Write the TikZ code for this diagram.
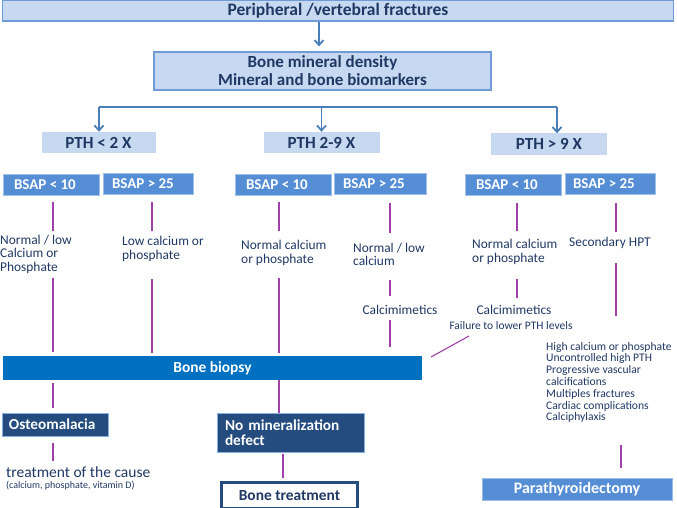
\documentclass[tikz,border=0pt]{standalone}
\usepackage{fontspec}
\setmainfont{Carlito}
\usetikzlibrary{arrows.meta}
\definecolor{lb}{HTML}{C6D9F1}
\definecolor{mb}{HTML}{558ED5}
\definecolor{bord}{HTML}{6F9BD6}
\definecolor{arr}{HTML}{4A7EBB}
\definecolor{pur}{HTML}{A040A8}
\definecolor{navy}{HTML}{1F3864}
\definecolor{biop}{HTML}{0070C0}
\definecolor{dk}{HTML}{244C7E}
\newcommand{\lbox}[2]{\makebox[#1][l]{#2}}
\begin{document}
\begin{tikzpicture}[x=1pt,y=-1pt,
  topbox/.style={fill=lb,draw=bord,line width=1.2pt,text=navy,inner sep=0pt,align=center,
    font=\bfseries\fontsize{17}{18}\selectfont},
  pthbox/.style={fill=lb,text=navy,inner sep=0pt,minimum height=21pt,
    font=\bfseries\fontsize{17}{18}\selectfont},
  bsapbox/.style={fill=mb,draw=mb!55!white,line width=0.6pt,text=white,inner ysep=0pt,minimum height=21pt,
    font=\bfseries\fontsize{15}{15}\selectfont},
  txt/.style={text=navy,inner sep=0pt,align=left,anchor=west,font=\fontsize{13.4}{13.5}\selectfont},
  pl/.style={draw=pur,line width=1.1pt},
  ar/.style={draw=arr,line width=1.8pt,-{Straight Barb[length=5pt,width=9pt]}},
  ln/.style={draw=arr,line width=1.8pt},
  darkbox/.style={fill=dk,draw=mb!70,line width=0.6pt,text=white,inner ysep=0pt,align=left,
    font=\bfseries\fontsize{15.3}{15}\selectfont},
  whitebox/.style={fill=white,draw=dk,line width=3pt,text=navy,inner sep=0pt,
    font=\bfseries\fontsize{15.4}{16}\selectfont},
  bluebar/.style={inner sep=0pt,text=white,font=\bfseries\fontsize{15.4}{16}\selectfont}]
\useasboundingbox (0,0) rectangle (677,508);
% top part
\node[topbox,minimum width=671pt,minimum height=21pt,font=\bfseries\fontsize{17.5}{18}\selectfont] (top) at (338,10.5) {Peripheral /vertebral fractures};
\node[topbox,minimum width=337pt,minimum height=38pt] (bmd) at (322.5,71) {Bone mineral density\\Mineral and bone biomarkers};
\node[pthbox,minimum width=114pt] (p1) at (98.5,142.5) {PTH < 2 X};
\node[pthbox,minimum width=116pt] (p2) at (321.5,142.5) {PTH 2-9 X};
\node[pthbox,minimum width=116pt] (p3) at (549,144) {PTH > 9 X};
\coordinate (bl) at (99,107);
\coordinate (br) at (557,107);
\coordinate (ta) at (319,0);
\draw[ar,shorten >=5pt] (ta |- top.south) -- (ta |- bmd.north);
\draw[ln] (bl) -- (br);
\draw[ar] (bl) -- (bl |- p1.north);
\draw[ar] (p2.north |- bl) -- (p2.north);
\draw[ar] (br) -- (br |- p3.north);
% BSAP
\node[bsapbox,inner xsep=11pt] (bs1) at (51,184.5) {\lbox{74pt}{BSAP < 10}};
\node[bsapbox,inner xsep=9pt] (bs2) at (148,184) {\lbox{72pt}{BSAP > 25}};
\node[bsapbox,inner xsep=11pt] (bs3) at (283,184.5) {\lbox{74pt}{BSAP < 10}};
\node[bsapbox,inner xsep=9pt] (bs4) at (380,184) {\lbox{74pt}{BSAP > 25}};
\node[bsapbox,inner xsep=11pt] (bs5) at (513,184.5) {\lbox{74pt}{BSAP < 10}};
\node[bsapbox,inner xsep=8pt] (bs6) at (610,184) {\lbox{74pt}{BSAP > 25}};
% texts
\node[txt] (t1) at (0,254) {Normal / low\\Calcium or\\Phosphate};
\node[txt] (t2) at (122,249) {Low calcium or\\phosphate};
\node[txt] (t3) at (241,253) {Normal calcium\\or phosphate};
\node[txt] (t4) at (353,254.5) {Normal / low\\calcium};
\node[txt] (t5) at (472,252) {Normal calcium\\or phosphate};
\node[txt] (t6) at (569,243) {Secondary HPT};
\node[txt,anchor=center] (c4) at (400,310) {Calcimimetics};
\node[txt,anchor=center] (c5) at (514,310) {Calcimimetics};
\node[txt,anchor=center,font=\fontsize{11.5}{12}\selectfont] (f5) at (511,326) {Failure to lower PTH levels};
\node[txt,font=\fontsize{11.6}{11.8}\selectfont] (list) at (546,382.5) {High calcium or phosphate\\Uncontrolled high PTH\\Progressive vascular\\calcifications\\Multiples fractures\\Cardiac complications\\Calciphylaxis};
% lower boxes
\node[bluebar,fill=biop,minimum width=419pt,minimum height=24pt] (bb) at (212.5,368) {Bone biopsy};
\node[darkbox,minimum height=23pt,inner xsep=7pt,text width=92pt] (os) at (55,424.5) {Osteomalacia};
\node[darkbox,minimum height=39pt,inner xsep=8pt,text width=131pt] (nm) at (290.5,432.5) {No mineralization\\defect};
\node[txt,font=\fontsize{15.5}{16}\selectfont] (tr) at (6,472) {treatment of the cause};
\node[txt,font=\fontsize{10}{10}\selectfont] (cl) at (6,486) {(calcium, phosphate, vitamin D)};
\node[whitebox,minimum width=136pt,minimum height=26pt] (bt) at (289.5,495.5) {Bone treatment};
\node[bluebar,fill=mb,draw=mb!60!white,line width=0.6pt,minimum width=190pt,minimum height=22pt,font=\bfseries\fontsize{16}{16}\selectfont] (px) at (577,489) {Parathyroidectomy};
% purple connectors
\coordinate (L1) at (53,0);
\coordinate (L2) at (152,0);
\coordinate (L3) at (279,0);
\coordinate (L4) at (390,0);
\coordinate (L5) at (517,0);
\coordinate (L6) at (616,0);
\coordinate (L7) at (621,0);
\coordinate (L8) at (283,0);
\draw[pl,shorten <=7pt,shorten >=4pt] (L1 |- bs1.south) -- (L1 |- t1.north);
\draw[pl,shorten <=7pt,shorten >=5pt] (L2 |- bs2.south) -- (L2 |- t2.north);
\draw[pl,shorten <=7pt,shorten >=9pt] (L3 |- bs3.south) -- (L3 |- t3.north);
\draw[pl,shorten <=8pt,shorten >=10pt] (L4 |- bs4.south) -- (L4 |- t4.north);
\draw[pl,shorten <=8pt,shorten >=8pt] (L5 |- bs5.south) -- (L5 |- t5.north);
\draw[pl,shorten <=8pt,shorten >=5pt] (L6 |- bs6.south) -- (L6 |- t6.north);
\draw[pl,shorten <=5pt,shorten >=4pt] (L1 |- t1.south) -- (L1 |- bb.north);
\draw[pl,shorten <=17pt,shorten >=3pt] (L2 |- t2.south) -- (L2 |- bb.north);
\draw[pl,shorten <=12pt,shorten >=3pt] (L3 |- t3.south) -- (L3 |- bb.north);
\draw[pl,shorten <=14pt,shorten >=9pt] (L4 |- t4.south) -- (L4 |- c4.north);
\draw[pl,shorten <=5pt,shorten >=9pt] (L4 |- c4.south) -- (L4 |- bb.north);
\draw[pl,shorten <=14pt,shorten >=7pt] (L5 |- t5.south) -- (L5 |- c5.north);
\draw[pl,shorten <=14pt,shorten >=26pt] (L6 |- t6.south) -- (L6 |- list.north);
\draw[pl,shorten <=3pt,shorten >=5pt] (L1 |- bb.south) -- (L1 |- os.north);
\draw[pl] (L3 |- bb.south) -- (L3 |- nm.north);
\draw[pl,shorten <=7pt,shorten >=5pt] (L1 |- os.south) -- (L1 |- tr.north);
\draw[pl,shorten <=2pt,shorten >=3pt] (L8 |- nm.south) -- (L8 |- bt.north);
\draw[pl,shorten <=22pt,shorten >=10pt] (L7 |- list.south) -- (L7 |- px.north);
\coordinate (d1) at (469,336);
\coordinate (d2) at (431,357);
\draw[pl] (d1) -- (d2);
\end{tikzpicture}
\end{document}
